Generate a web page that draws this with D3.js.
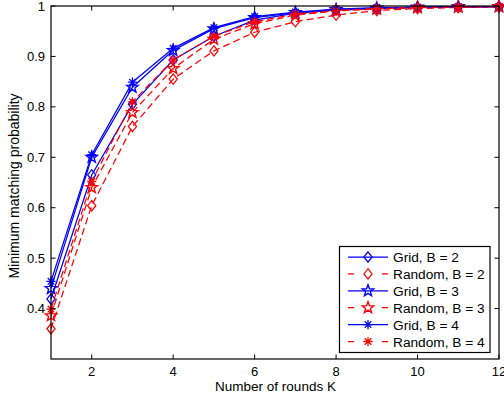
<!DOCTYPE html>
<html><head><meta charset="utf-8">
<script src="https://cdn.jsdelivr.net/npm/d3@7"></script>
<style>html,body{margin:0;padding:0;background:#fff;}svg{display:block;font-family:"Liberation Sans",Arial,sans-serif;}</style>
</head><body><svg id="c" width="504" height="403"></svg>
<script>
const rounds = [1,2,3,4,5,6,7,8,9,10,11,12];
const gridB2   = [0.419,0.665,0.805,0.893,0.940,0.972,0.986,0.992,0.995,0.997,0.998,0.999];
const randomB2 = [0.360,0.604,0.761,0.855,0.911,0.948,0.969,0.982,0.991,0.995,0.997,0.998];
const gridB3   = [0.440,0.700,0.839,0.912,0.955,0.977,0.987,0.993,0.996,0.998,0.999,0.999];
const randomB3 = [0.386,0.640,0.789,0.876,0.934,0.965,0.982,0.990,0.994,0.997,0.998,0.999];
const gridB4   = [0.454,0.705,0.849,0.916,0.957,0.979,0.988,0.994,0.997,0.998,0.999,0.999];
const randomB4 = [0.399,0.652,0.810,0.893,0.940,0.969,0.984,0.991,0.995,0.997,0.998,0.999];
const seriesNames = ["Grid, B = 2","Random, B = 2","Grid, B = 3","Random, B = 3","Grid, B = 4","Random, B = 4"];
const xTicks = [2,4,6,8,10,12];
const yTicks = [0.4,0.5,0.6,0.7,0.8,0.9,1];

const series = [
  {name: seriesNames[0], values: gridB2,   color:"#0000ff", dash:null,  marker:"diamond"},
  {name: seriesNames[1], values: randomB2, color:"#ff0000", dash:"7,4", marker:"diamond"},
  {name: seriesNames[2], values: gridB3,   color:"#0000ff", dash:null,  marker:"star"},
  {name: seriesNames[3], values: randomB3, color:"#ff0000", dash:"7,4", marker:"star"},
  {name: seriesNames[4], values: gridB4,   color:"#0000ff", dash:null,  marker:"asterisk"},
  {name: seriesNames[5], values: randomB4, color:"#ff0000", dash:"7,4", marker:"asterisk"}
];

const L=51, R=499, T=6, B=359;
const svg = d3.select("#c");
const x = d3.scaleLinear().domain([1,12]).range([L,R]);
const y = d3.scaleLinear().domain([0.3,1]).range([B,T]);
const SW = 1.25;

function drawMarker(g, type, cx, cy, color){
  if(type==="diamond"){
    const r=5.2;
    g.append("path").attr("d",`M${cx},${cy-r}L${cx+r*0.78},${cy}L${cx},${cy+r}L${cx-r*0.78},${cy}Z`)
      .attr("fill","none").attr("stroke",color).attr("stroke-width",SW);
  } else if(type==="star"){
    const ro=6, ri=2.5; let pts=[];
    for(let i=0;i<10;i++){const a=-Math.PI/2+i*Math.PI/5; const rr=i%2?ri:ro; pts.push([cx+rr*Math.cos(a), cy+rr*Math.sin(a)]);}
    g.append("path").attr("d","M"+pts.map(p=>p.join(",")).join("L")+"Z")
      .attr("fill","none").attr("stroke",color).attr("stroke-width",1.4);
  } else {
    const r=4.6; let d="";
    d+=`M${cx-r},${cy}L${cx+r},${cy}`;
    d+=`M${cx},${cy-r}L${cx},${cy+r}`;
    const q=r*0.72;
    d+=`M${cx-q},${cy-q}L${cx+q},${cy+q}M${cx-q},${cy+q}L${cx+q},${cy-q}`;
    g.append("path").attr("d",d).attr("fill","none").attr("stroke",color).attr("stroke-width",1.3);
  }
}

const plot = svg.append("g");
const line = d3.line().x((d,i)=>x(rounds[i])).y(d=>y(d));
series.forEach(s=>{
  const g = plot.append("g");
  g.append("path").datum(s.values).attr("d",line).attr("fill","none")
    .attr("stroke",s.color).attr("stroke-width",SW).attr("stroke-dasharray",s.dash);
  s.values.forEach((v,i)=>drawMarker(g,s.marker,x(rounds[i]),y(v),s.color));
});

const ax = svg.append("g");
ax.append("rect").attr("x",L).attr("y",T).attr("width",R-L).attr("height",B-T)
  .attr("fill","none").attr("stroke","#000").attr("stroke-width",1.2);
const tl=4.5;
xTicks.forEach(t=>{
  ax.append("line").attr("x1",x(t)).attr("x2",x(t)).attr("y1",B).attr("y2",B-tl).attr("stroke","#000");
  ax.append("line").attr("x1",x(t)).attr("x2",x(t)).attr("y1",T).attr("y2",T+tl).attr("stroke","#000");
  ax.append("text").attr("x",x(t)).attr("y",B+17).attr("text-anchor","middle").attr("font-size",13).text(t);
});
yTicks.forEach(t=>{
  ax.append("line").attr("x1",L).attr("x2",L+tl).attr("y1",y(t)).attr("y2",y(t)).attr("stroke","#000");
  ax.append("line").attr("x1",R).attr("x2",R-tl).attr("y1",y(t)).attr("y2",y(t)).attr("stroke","#000");
  ax.append("text").attr("x",L-6).attr("y",y(t)+4.5).attr("text-anchor","end").attr("font-size",13).text(d3.format("")(t));
});
ax.append("text").attr("x",275.5).attr("y",391).attr("text-anchor","middle").attr("font-size",13.5).text("Number of rounds K");
ax.append("text").attr("transform",`translate(18.5,186) rotate(-90)`).attr("text-anchor","middle").attr("font-size",14).text("Minimum matching probability");

const lg = svg.append("g");
const lx=339.5, ly=246.5, lw=150.5, lh=106;
lg.append("rect").attr("x",lx).attr("y",ly).attr("width",lw).attr("height",lh).attr("fill","#fff").attr("stroke","#000").attr("stroke-width",1.2);
series.forEach((s,i)=>{
  const yy = ly+10.5+i*16.9;
  lg.append("line").attr("x1",lx+8.5).attr("x2",lx+48.5).attr("y1",yy).attr("y2",yy)
    .attr("stroke",s.color).attr("stroke-width",SW).attr("stroke-dasharray",s.dash?"6,28":null);
  drawMarker(lg,s.marker,lx+28.5,yy,s.color);
  lg.append("text").attr("x",lx+53.5).attr("y",yy+5).attr("font-size",13.7).text(s.name);
});
</script></body></html>
